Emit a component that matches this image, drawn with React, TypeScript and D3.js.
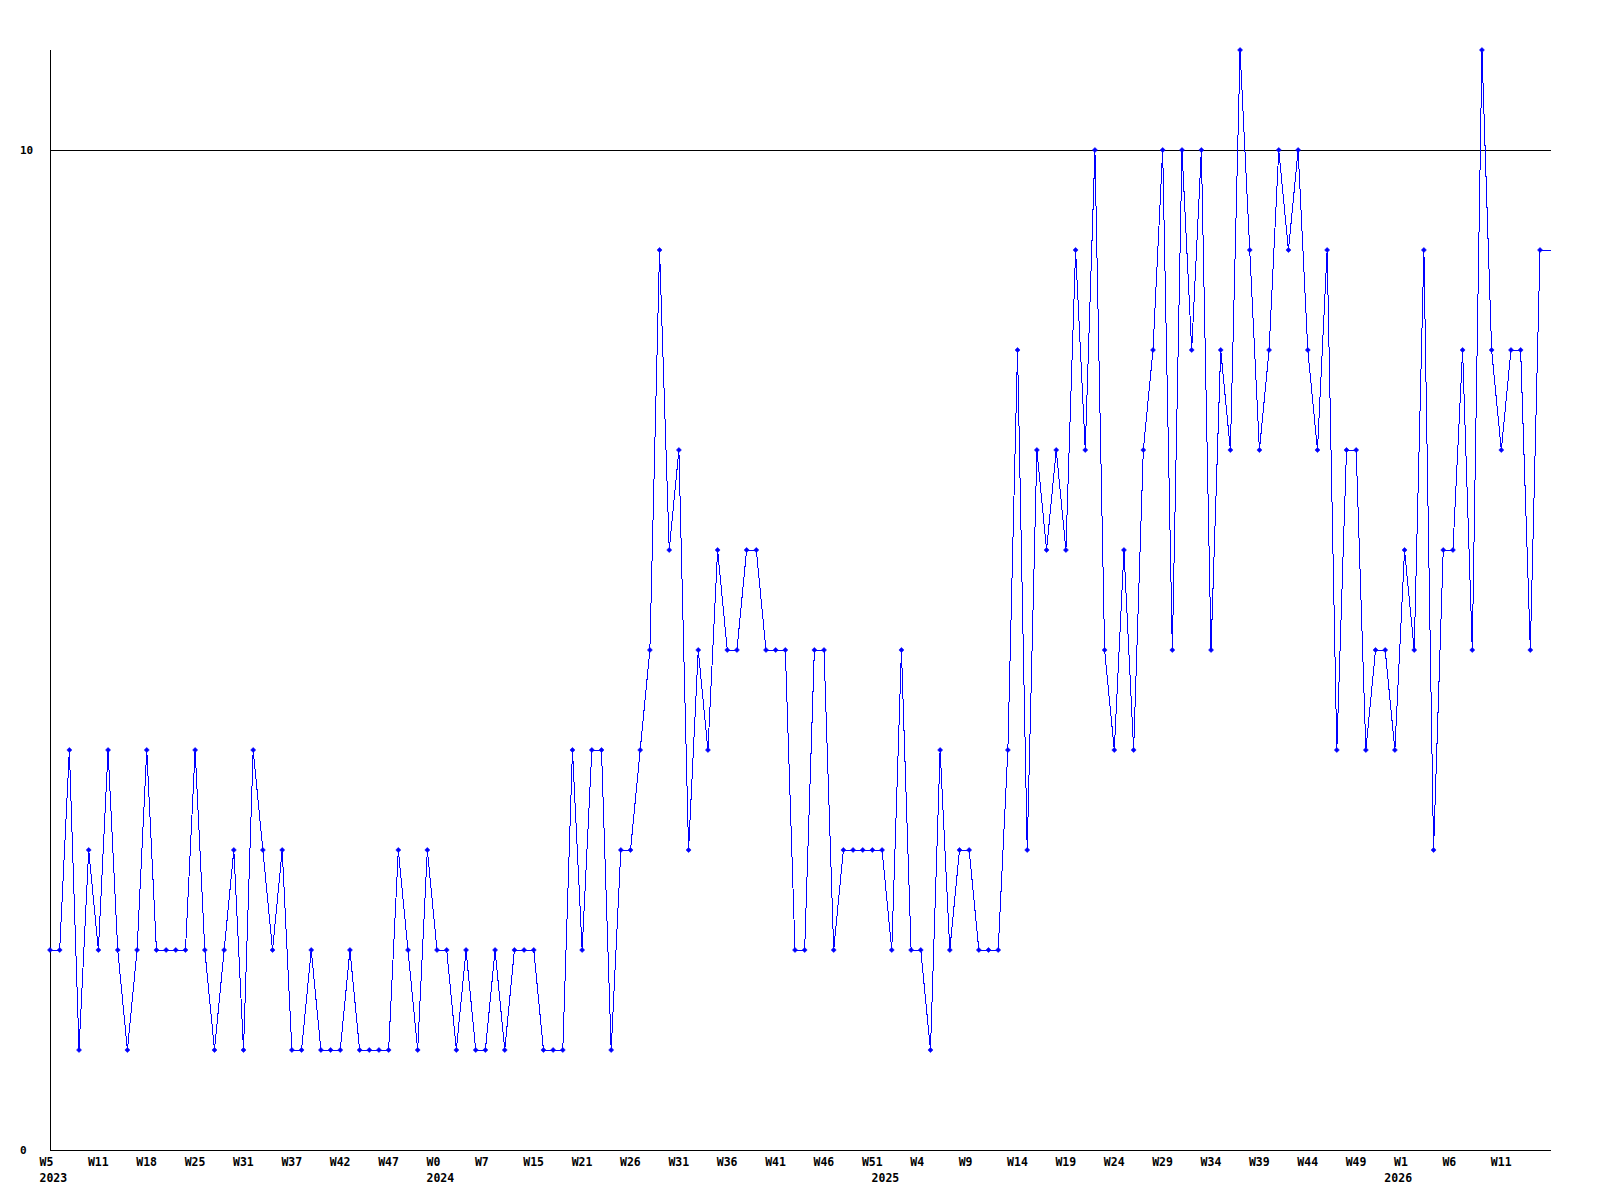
import React from "react";
import * as d3 from "d3";

const values: number[] = [
  2, 2, 4, 1, 3, 2, 4, 2, 1, 2,
  4, 2, 2, 2, 2, 4, 2, 1, 2, 3,
  1, 4, 3, 2, 3, 1, 1, 2, 1, 1,
  1, 2, 1, 1, 1, 1, 3, 2, 1, 3,
  2, 2, 1, 2, 1, 1, 2, 1, 2, 2,
  2, 1, 1, 1, 4, 2, 4, 4, 1, 3,
  3, 4, 5, 9, 6, 7, 3, 5, 4, 6,
  5, 5, 6, 6, 5, 5, 5, 2, 2, 5,
  5, 2, 3, 3, 3, 3, 3, 2, 5, 2,
  2, 1, 4, 2, 3, 3, 2, 2, 2, 4,
  8, 3, 7, 6, 7, 6, 9, 7, 10, 5,
  4, 6, 4, 7, 8, 10, 5, 10, 8, 10,
  5, 8, 7, 11, 9, 7, 8, 10, 9, 10,
  8, 7, 9, 4, 7, 7, 4, 5, 5, 4,
  6, 5, 9, 3, 6, 6, 8, 5, 11, 8,
  7, 8, 8, 5, 9,
];

const weekLabels: string[] = [
  "W5", "W11", "W18", "W25", "W31", "W37", "W42", "W47", "W0", "W7",
  "W15", "W21", "W26", "W31", "W36", "W41", "W46", "W51", "W4", "W9",
  "W14", "W19", "W24", "W29", "W34", "W39", "W44", "W49", "W1", "W6", "W11",
];
const weekLabelStep = 5;

const yearLabels: string[] = ["2023", "2024", "2025", "2026"];
const yearIndices: number[] = [0, 40, 86, 139];

const yTicks: number[] = [0, 10];
const yMax = 11;

const W = 1600;
const H = 1200;
const plotLeft = 50;
const plotRight = 1551;
const plotTop = 50;
const plotBottom = 1150;
const lastX = 1540;
const font = "'DejaVu Sans Mono', monospace";
const blue = "#0000ff";

export default function App() {
  const x = d3.scaleLinear().domain([0, values.length - 1]).range([plotLeft, lastX]);
  const y = d3.scaleLinear().domain([0, yMax]).range([plotBottom, plotTop]);

  const line = d3
    .line<number>()
    .x((_, i) => x(i))
    .y((d) => y(d));

  const last = values[values.length - 1];

  const marker = (cx: number, cy: number) =>
    `M${cx - 2.5},${cy}L${cx},${cy - 2.5}L${cx + 2.5},${cy}L${cx},${cy + 2.5}Z`;

  return (
    <svg
      width={W}
      height={H}
      style={{ position: "absolute", left: 0, top: 0, background: "#fff" }}
    >
      <rect x={0} y={0} width={W} height={H} fill="#fff" />
      {/* grid lines */}
      {yTicks
        .filter((t) => t !== 0)
        .map((t) => (
          <line
            key={"g" + t}
            x1={plotLeft}
            x2={plotRight}
            y1={Math.round(y(t)) + 0.5}
            y2={Math.round(y(t)) + 0.5}
            stroke="#000"
            strokeWidth={1}
            shapeRendering="crispEdges"
          />
        ))}
      {/* axes */}
      <line
        x1={plotLeft + 0.5}
        x2={plotLeft + 0.5}
        y1={plotTop}
        y2={plotBottom}
        stroke="#000"
        strokeWidth={1}
        shapeRendering="crispEdges"
      />
      <line
        x1={plotLeft}
        x2={plotRight}
        y1={plotBottom + 0.5}
        y2={plotBottom + 0.5}
        stroke="#000"
        strokeWidth={1}
        shapeRendering="crispEdges"
      />
      {/* y tick labels */}
      {yTicks.map((t) => (
        <text
          key={"y" + t}
          x={20}
          y={y(t) + 4}
          fontFamily={font}
          fontWeight="bold"
          fontSize={11}
          fill="#000"
        >
          {t}
        </text>
      ))}
      {/* x tick labels */}
      {weekLabels.map((lab, k) => (
        <text
          key={"w" + k}
          x={x(k * weekLabelStep) - 10.5}
          y={1166}
          fontFamily={font}
          fontWeight="bold"
          fontSize={11.5}
          fill="#000"
        >
          {lab}
        </text>
      ))}
      {yearLabels.map((lab, k) => (
        <text
          key={"yr" + k}
          x={x(yearIndices[k]) - 10.5}
          y={1181.5}
          fontFamily={font}
          fontWeight="bold"
          fontSize={11.5}
          fill="#000"
        >
          {lab}
        </text>
      ))}
      {/* series line */}
      <path
        d={line(values) || ""}
        fill="none"
        stroke={blue}
        strokeWidth={1}
        shapeRendering="crispEdges"
      />
      <line
        x1={x(values.length - 1)}
        x2={plotRight}
        y1={y(last)}
        y2={y(last)}
        stroke={blue}
        strokeWidth={1}
        shapeRendering="crispEdges"
      />
      {values.map((v, i) => (
        <path
          key={"m" + i}
          d={marker(x(i), y(v))}
          fill={blue}
          stroke={blue}
          strokeWidth={0.6}
        />
      ))}
    </svg>
  );
}
